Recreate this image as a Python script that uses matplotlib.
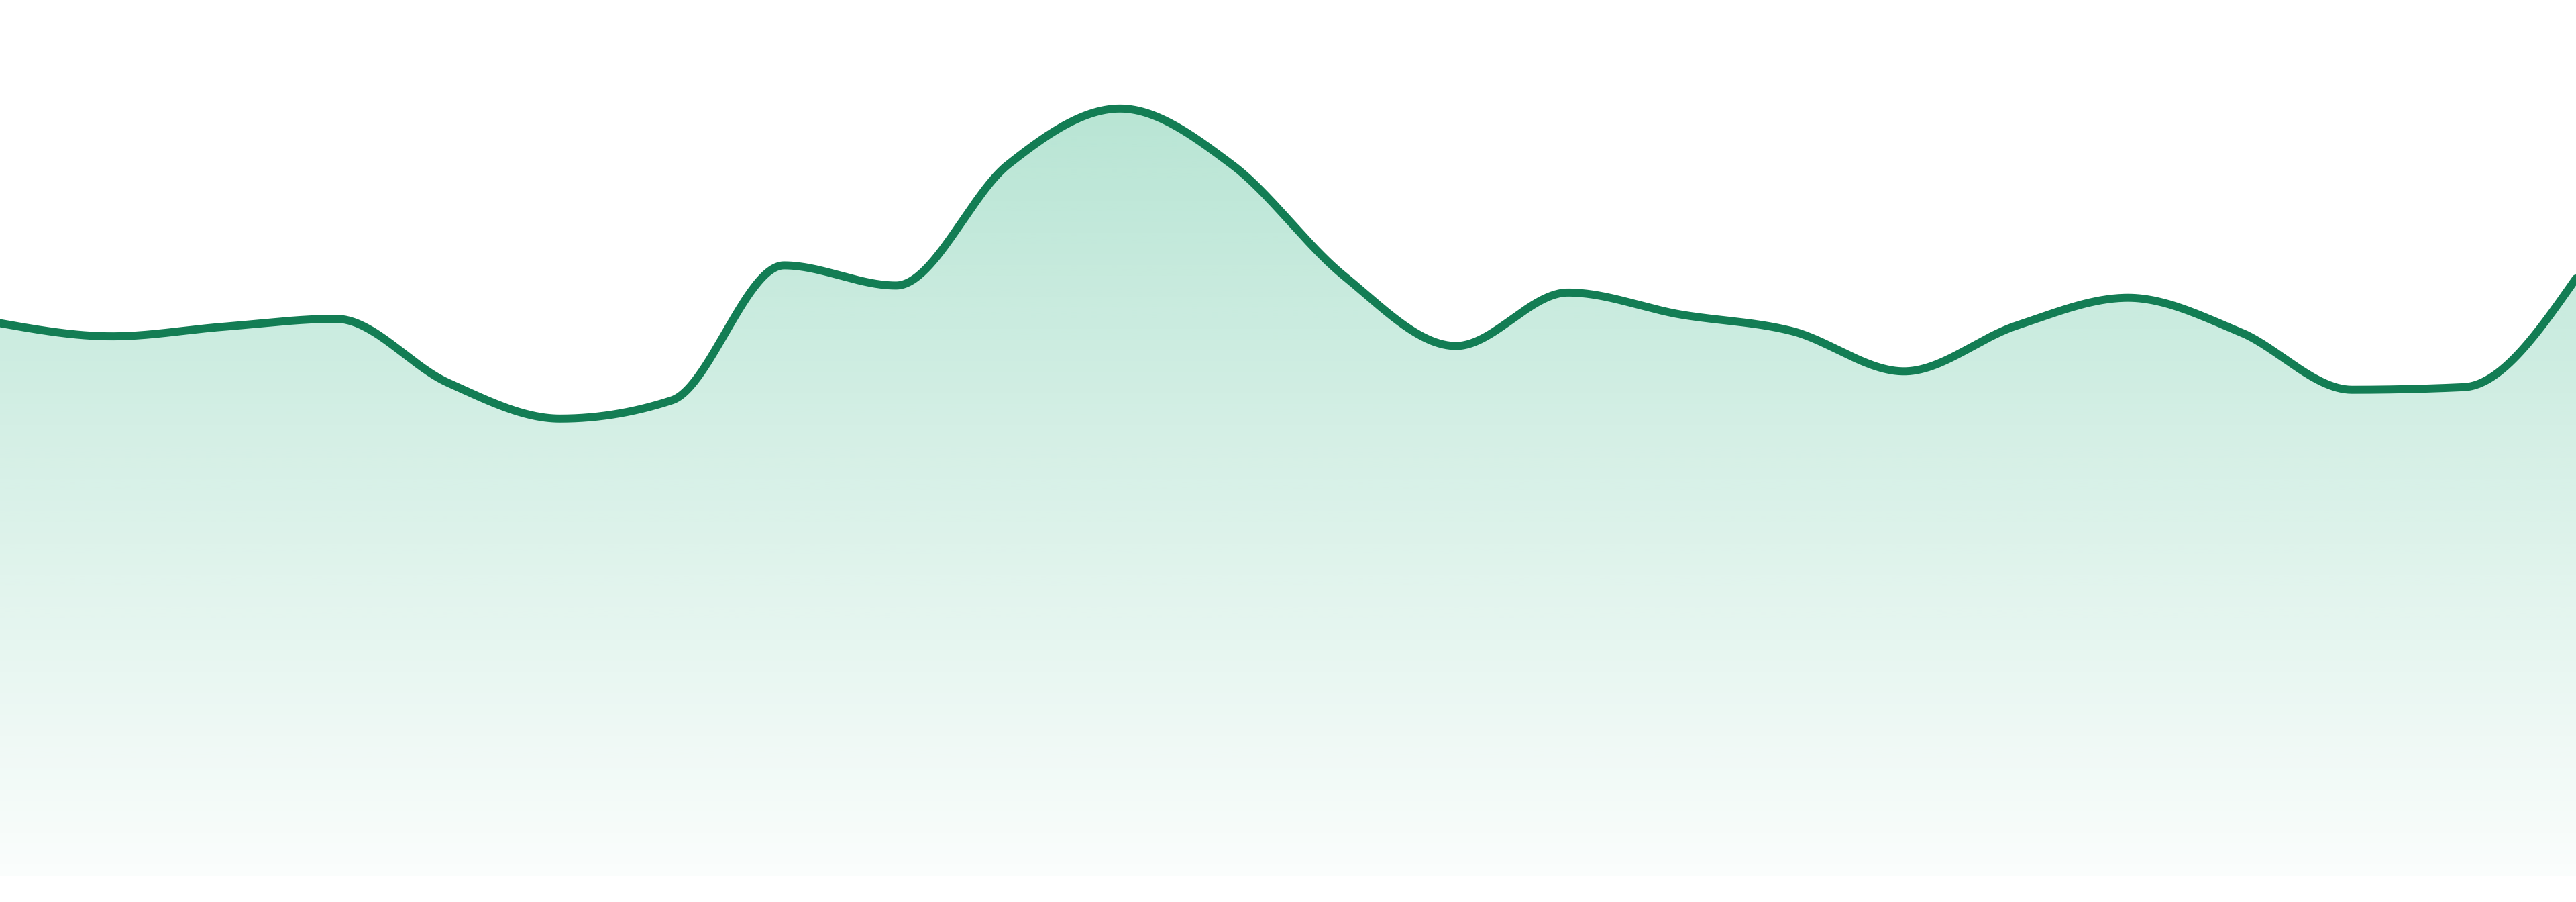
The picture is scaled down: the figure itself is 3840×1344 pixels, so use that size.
#!/usr/bin/env python3
# smooth area chart with a vertical green gradient under the line

import matplotlib
matplotlib.use("Agg")
import matplotlib.pyplot as plt
import numpy as np

# data: one value per step (24 steps)
steps = list(range(24))
values = [63.1, 61.6, 62.7, 63.6, 56.3, 52.2, 54.3, 69.7, 67.4, 81.2, 87.6, 81.2,
          68.5, 60.5, 66.6, 64.1, 62.2, 57.6, 62.8, 66.0, 62.1, 55.5, 55.8, 68.2]

line_color = "#137d54"
fill_rgb = (18 / 255, 168 / 255, 112 / 255)
alpha_top = 0.30
alpha_bottom = 0.02


#######################################################################
def monotone_x(xs, ys, n=60):
    # same idea as d3.curveMonotoneX: cubic hermite with limited tangents
    xs = np.asarray(xs, dtype=float)
    ys = np.asarray(ys, dtype=float)
    h = np.diff(xs)
    s = np.diff(ys) / h
    t = np.zeros(len(xs))
    sgn = lambda v: -1.0 if v < 0 else 1.0
    for i in range(1, len(xs) - 1):
        s0, s1 = s[i - 1], s[i]
        h0, h1 = h[i - 1], h[i]
        p = (s0 * h1 + s1 * h0) / (h0 + h1)
        t[i] = (sgn(s0) + sgn(s1)) * min(abs(s0), abs(s1), 0.5 * abs(p))
    t[0] = (3 * s[0] - t[1]) / 2
    t[-1] = (3 * s[-1] - t[-2]) / 2

    xo, yo = [], []
    for i in range(len(xs) - 1):
        u = np.linspace(0, 1, n, endpoint=(i == len(xs) - 2))
        h00 = 2 * u**3 - 3 * u**2 + 1
        h10 = u**3 - 2 * u**2 + u
        h01 = -2 * u**3 + 3 * u**2
        h11 = u**3 - u**2
        xo.append(xs[i] + u * h[i])
        yo.append(h00 * ys[i] + h10 * h[i] * t[i] + h01 * ys[i + 1] + h11 * h[i] * t[i + 1])
    return np.concatenate(xo), np.concatenate(yo)


def main():
    fig = plt.figure(figsize=(38.4, 13.44), dpi=100)
    # plot area: baseline sits a bit above the bottom edge
    ax = fig.add_axes([0, 39 / 1344, 1, 1305 / 1344])
    ax.set_xlim(steps[0], steps[-1])
    ax.set_ylim(0, 100)
    ax.axis("off")

    xs, ys = monotone_x(steps, values)

    # area polygon, used as clip path for the gradient
    poly = ax.fill_between(xs, ys, 0, color="none", lw=0)
    ymax = max(values)
    grad = np.zeros((256, 2, 4))
    grad[:, :, 0] = fill_rgb[0]
    grad[:, :, 1] = fill_rgb[1]
    grad[:, :, 2] = fill_rgb[2]
    grad[:, :, 3] = np.linspace(alpha_top, alpha_bottom, 256)[:, None]
    im = ax.imshow(grad, extent=[steps[0], steps[-1], 0, ymax], aspect="auto",
                   origin="upper", interpolation="bilinear", zorder=1)
    im.set_clip_path(poly.get_paths()[0], transform=ax.transData)

    ax.plot(xs, ys, color=line_color, lw=8.6, solid_capstyle="round",
            solid_joinstyle="round", zorder=2)

    fig.savefig("out.png", dpi=100, facecolor="white")
    plt.close(fig)


#######################################################################
if __name__ == "__main__":
    main()
